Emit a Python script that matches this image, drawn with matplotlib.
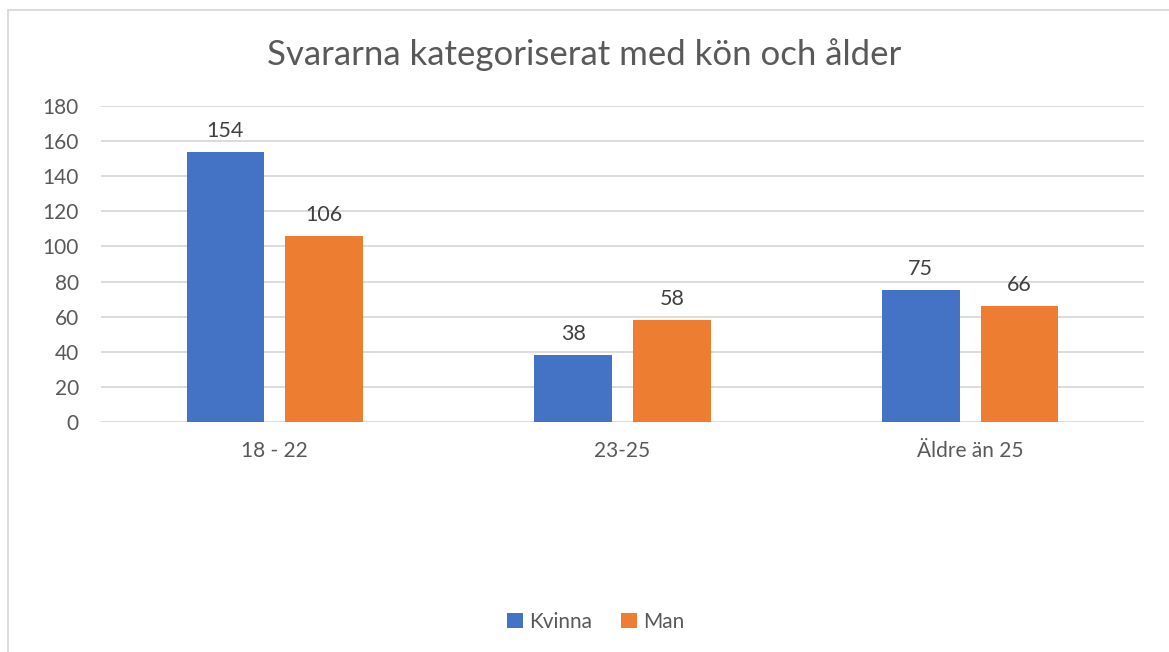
import numpy as np
import matplotlib.pyplot as plt
from matplotlib.lines import Line2D

plt.rcParams['font.family'] = ['Lato', 'DejaVu Sans']

categories = ["18 - 22", "23-25", "Äldre än 25"]
kvinna = [154, 38, 75]
man = [106, 58, 66]
series = ["Kvinna", "Man"]
colors = ["#4472c4", "#ed7d31"]
yticks = [0, 20, 40, 60, 80, 100, 120, 140, 160, 180]

W, H = 1169, 652
fig = plt.figure(figsize=(W / 100, H / 100), dpi=100)
ax = fig.add_axes([101 / W, 1 - 422 / H, (1144 - 101) / W, (422 - 106) / H])

x = np.arange(len(categories))
bw = 0.224
off = 0.142
grey = "#595959"

for vals, c, d, lab in zip([kvinna, man], colors, [-off, off], series):
    bars = ax.bar(x + d, vals, bw, color=c, label=lab, zorder=3)
    for b, v in zip(bars, vals):
        ax.annotate(str(v), (b.get_x() + b.get_width() / 2, v), xytext=(0, 8),
                    textcoords="offset points", ha="center", va="bottom",
                    fontsize=15.5, color="#404040")

ax.set_xlim(-0.5, 2.5)
ax.set_ylim(0, 180)
ax.set_yticks(yticks)
ax.set_xticks(x)
ax.set_xticklabels(categories)
ax.grid(axis="y", color="#d9d9d9", linewidth=1.3, zorder=0)
ax.tick_params(length=0, labelsize=15, colors=grey)
ax.tick_params(axis="y", pad=16)
ax.tick_params(axis="x", pad=14)
for s in ax.spines.values():
    s.set_visible(False)

fig.text(0.5, 1 - 55 / H, "Svararna kategoriserat med kön och ålder",
         ha="center", va="center", fontsize=25, color=grey)

fig.legend(loc="center", bbox_to_anchor=(596 / W, 1 - 622 / H), ncol=2,
           frameon=False, fontsize=15, handlelength=0.75, handleheight=0.75,
           handletextpad=0.3, columnspacing=1.4, labelcolor=grey)

# chart border (only top and left edges fall inside the image)
fig.add_artist(Line2D([8 / W, 8 / W], [0, 1 - 10 / H], transform=fig.transFigure,
                      color="#d9d9d9", linewidth=1.3))
fig.add_artist(Line2D([8 / W, 1], [1 - 10 / H, 1 - 10 / H], transform=fig.transFigure,
                      color="#d9d9d9", linewidth=1.3))

fig.savefig("out.png", dpi=100)
